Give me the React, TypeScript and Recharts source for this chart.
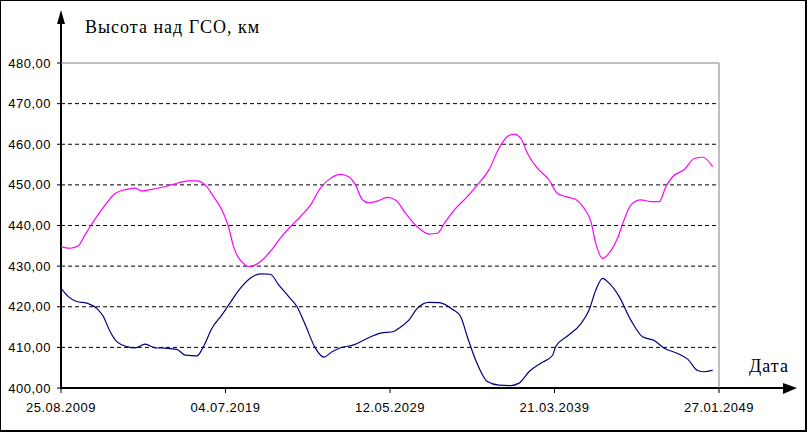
import { CartesianGrid, Line, LineChart, ReferenceLine, XAxis, YAxis, usePlotArea } from "recharts";

// x = days since 25.08.2009
const upperDays = [
  0, 197, 379, 526, 636, 782, 964, 1184, 1440, 1622, 1769, 1988, 2279, 2536, 2790, 2974,
  3156, 3338, 3522, 3667, 3776, 3923, 4143, 4362, 4581, 4800, 5019, 5238, 5458, 5677,
  5896, 6115, 6297, 6444, 6591, 6735, 6920, 7139, 7321, 7540, 7796, 8050, 8235, 8417,
  8636, 8892, 9111, 9365, 9585, 9769, 9914, 10060, 10207, 10426, 10681, 10865, 11047,
  11266, 11448, 11595, 11704, 11851, 11996, 12180, 12324, 12471, 12690, 12910, 13092,
  13239, 13385, 13640, 13859, 14043, 14262,
];
const upperHeights = [
  434.8, 434.4, 435.0, 437.7, 439.7, 442.2, 445.0, 447.9, 448.9, 449.2, 448.5, 448.9, 449.6,
  450.4, 451.0, 451.0, 450.0, 447.1, 443.8, 439.7, 434.8, 431.5, 429.9, 431.1, 433.6,
  436.9, 439.7, 442.2, 445.0, 449.2, 451.6, 452.6, 452.0, 450.0, 446.4, 445.6, 446.0,
  446.9, 446.3, 443.0, 439.7, 437.9, 438.1, 441.0, 444.2, 447.1, 450.0, 453.7, 459.0,
  461.9, 462.5, 461.5, 457.8, 454.1, 451.2, 447.9, 447.1, 446.4, 444.2, 441.0, 435.6,
  431.9, 433.2, 436.9, 441.4, 445.0, 446.3, 445.9, 445.9, 449.6, 452.0, 453.8, 456.5,
  456.8, 454.5,
];

const lowerDays = [
  0, 160, 344, 563, 782, 927, 1074, 1221, 1440, 1622, 1841, 2060, 2279, 2536, 2718, 2974,
  3119, 3303, 3522, 3704, 3923, 4143, 4362, 4581, 4763, 4982, 5166, 5348, 5567, 5749,
  5933, 6115, 6407, 6700, 6992, 7283, 7393, 7612, 7796, 8050, 8270, 8563, 8745, 8892,
  9074, 9330, 9585, 9841, 10023, 10242, 10499, 10755, 10828, 11084, 11375, 11557, 11704,
  11851, 11996, 12215, 12471, 12728, 12982, 13201, 13495, 13714, 13933, 14078, 14262,
];
const lowerHeights = [
  424.5, 422.5, 421.3, 420.9, 419.6, 417.6, 413.9, 411.4, 410.2, 409.9, 410.8, 409.9, 409.8,
  409.5, 408.1, 407.9, 410.2, 414.7, 418.0, 421.0, 424.5, 427.0, 428.1, 428.0, 425.4,
  422.5, 420.0, 415.5, 409.8, 407.6, 408.9, 409.9, 410.6, 412.2, 413.5, 413.9, 414.7,
  416.7, 419.6, 421.1, 421.0, 419.4, 417.6, 412.6, 406.9, 401.6, 400.7, 400.6, 401.2,
  404.0, 406.1, 408.0, 410.2, 412.8, 415.8, 419.2, 424.1, 427.0, 425.8, 422.5, 416.7,
  412.6, 411.7, 409.8, 408.5, 407.1, 404.3, 404.0, 404.4,
];

const dateTicks = [0, 3600, 7200, 10800, 14400];
const dateLabels = ["25.08.2009", "04.07.2019", "12.05.2029", "21.03.2039", "27.01.2049"];
const heightTicks = [400, 410, 420, 430, 440, 450, 460, 470, 480];
const dashedLevels = [410, 420, 430, 440, 450, 460, 470];

const upperData = upperDays.map((day, i) => ({ day, h: upperHeights[i] }));
const lowerData = lowerDays.map((day, i) => ({ day, h: lowerHeights[i] }));

const tickFont = { fill: "#000", fontSize: 13, fontFamily: "'Liberation Sans', Arial, sans-serif", letterSpacing: 0.5 };
const serif = "'Liberation Serif', 'Times New Roman', serif";

function AxesAndCaptions() {
  const area = usePlotArea();
  if (!area) return null;
  const { x, y, width, height } = area;
  const bottom = y + height;
  const arrowEnd = x + width + 78;
  return (
    <g>
      <line x1={x} y1={bottom + 1} x2={x} y2={20} stroke="#000" strokeWidth={2} />
      <polygon points={`${x - 4},${24} ${x + 4},${24} ${x},${10}`} fill="#000" />
      <line x1={x - 1} y1={bottom} x2={arrowEnd - 8} y2={bottom} stroke="#000" strokeWidth={2} />
      <polygon points={`${arrowEnd - 14},${bottom - 5} ${arrowEnd - 14},${bottom + 6} ${arrowEnd},${bottom}`} fill="#000" />
      <text x={x + 24} y={33} fontFamily={serif} fontSize={18} letterSpacing={1} fill="#000">
        Высота над ГСО, км
      </text>
      <text x={x + width + 30} y={y + height - 16} fontFamily={serif} fontSize={18} letterSpacing={1} fill="#000">
        Дата
      </text>
    </g>
  );
}

export default function App() {
  return (
    <div style={{ position: "absolute", left: 0, top: 0, width: 807, height: 432, background: "#fff" }}>
      <LineChart width={807} height={432} margin={{ top: 63, right: 88, left: 0, bottom: 14 }}>
        <CartesianGrid
          horizontal
          vertical={false}
          horizontalValues={dashedLevels}
          stroke="#000"
          strokeDasharray="4 3"
        />
        <XAxis
          type="number"
          dataKey="day"
          domain={[0, 14400]}
          ticks={dateTicks}
          tickFormatter={(v) => dateLabels[dateTicks.indexOf(v)] ?? ""}
          axisLine={false}
          tickLine={{ stroke: "#000", strokeWidth: 1 }}
          tickSize={5}
          tickMargin={10}
          height={30}
          tick={tickFont}
          interval={0}
        />
        <YAxis
          type="number"
          domain={[400, 480]}
          ticks={heightTicks}
          tickFormatter={(v) => v.toFixed(2).replace(".", ",")}
          axisLine={false}
          tickLine={{ stroke: "#000", strokeWidth: 1 }}
          tickSize={4}
          tickMargin={6}
          width={61}
          tick={tickFont}
          interval={0}
        />
        <ReferenceLine y={480} stroke="#808080" />
        <ReferenceLine x={14400} stroke="#808080" />
        <Line
          data={upperData}
          dataKey="h"
          type="monotone"
          stroke="#ff00ff"
          strokeWidth={1.2}
          dot={false}
          isAnimationActive={false}
        />
        <Line
          data={lowerData}
          dataKey="h"
          type="monotone"
          stroke="#000080"
          strokeWidth={1.2}
          dot={false}
          isAnimationActive={false}
        />
        <AxesAndCaptions />
      </LineChart>
      <div
        style={{
          position: "absolute",
          inset: 0,
          boxSizing: "border-box",
          border: "1px solid #000",
          borderRightWidth: 2,
          borderBottomWidth: 2,
          pointerEvents: "none",
        }}
      />
    </div>
  );
}
